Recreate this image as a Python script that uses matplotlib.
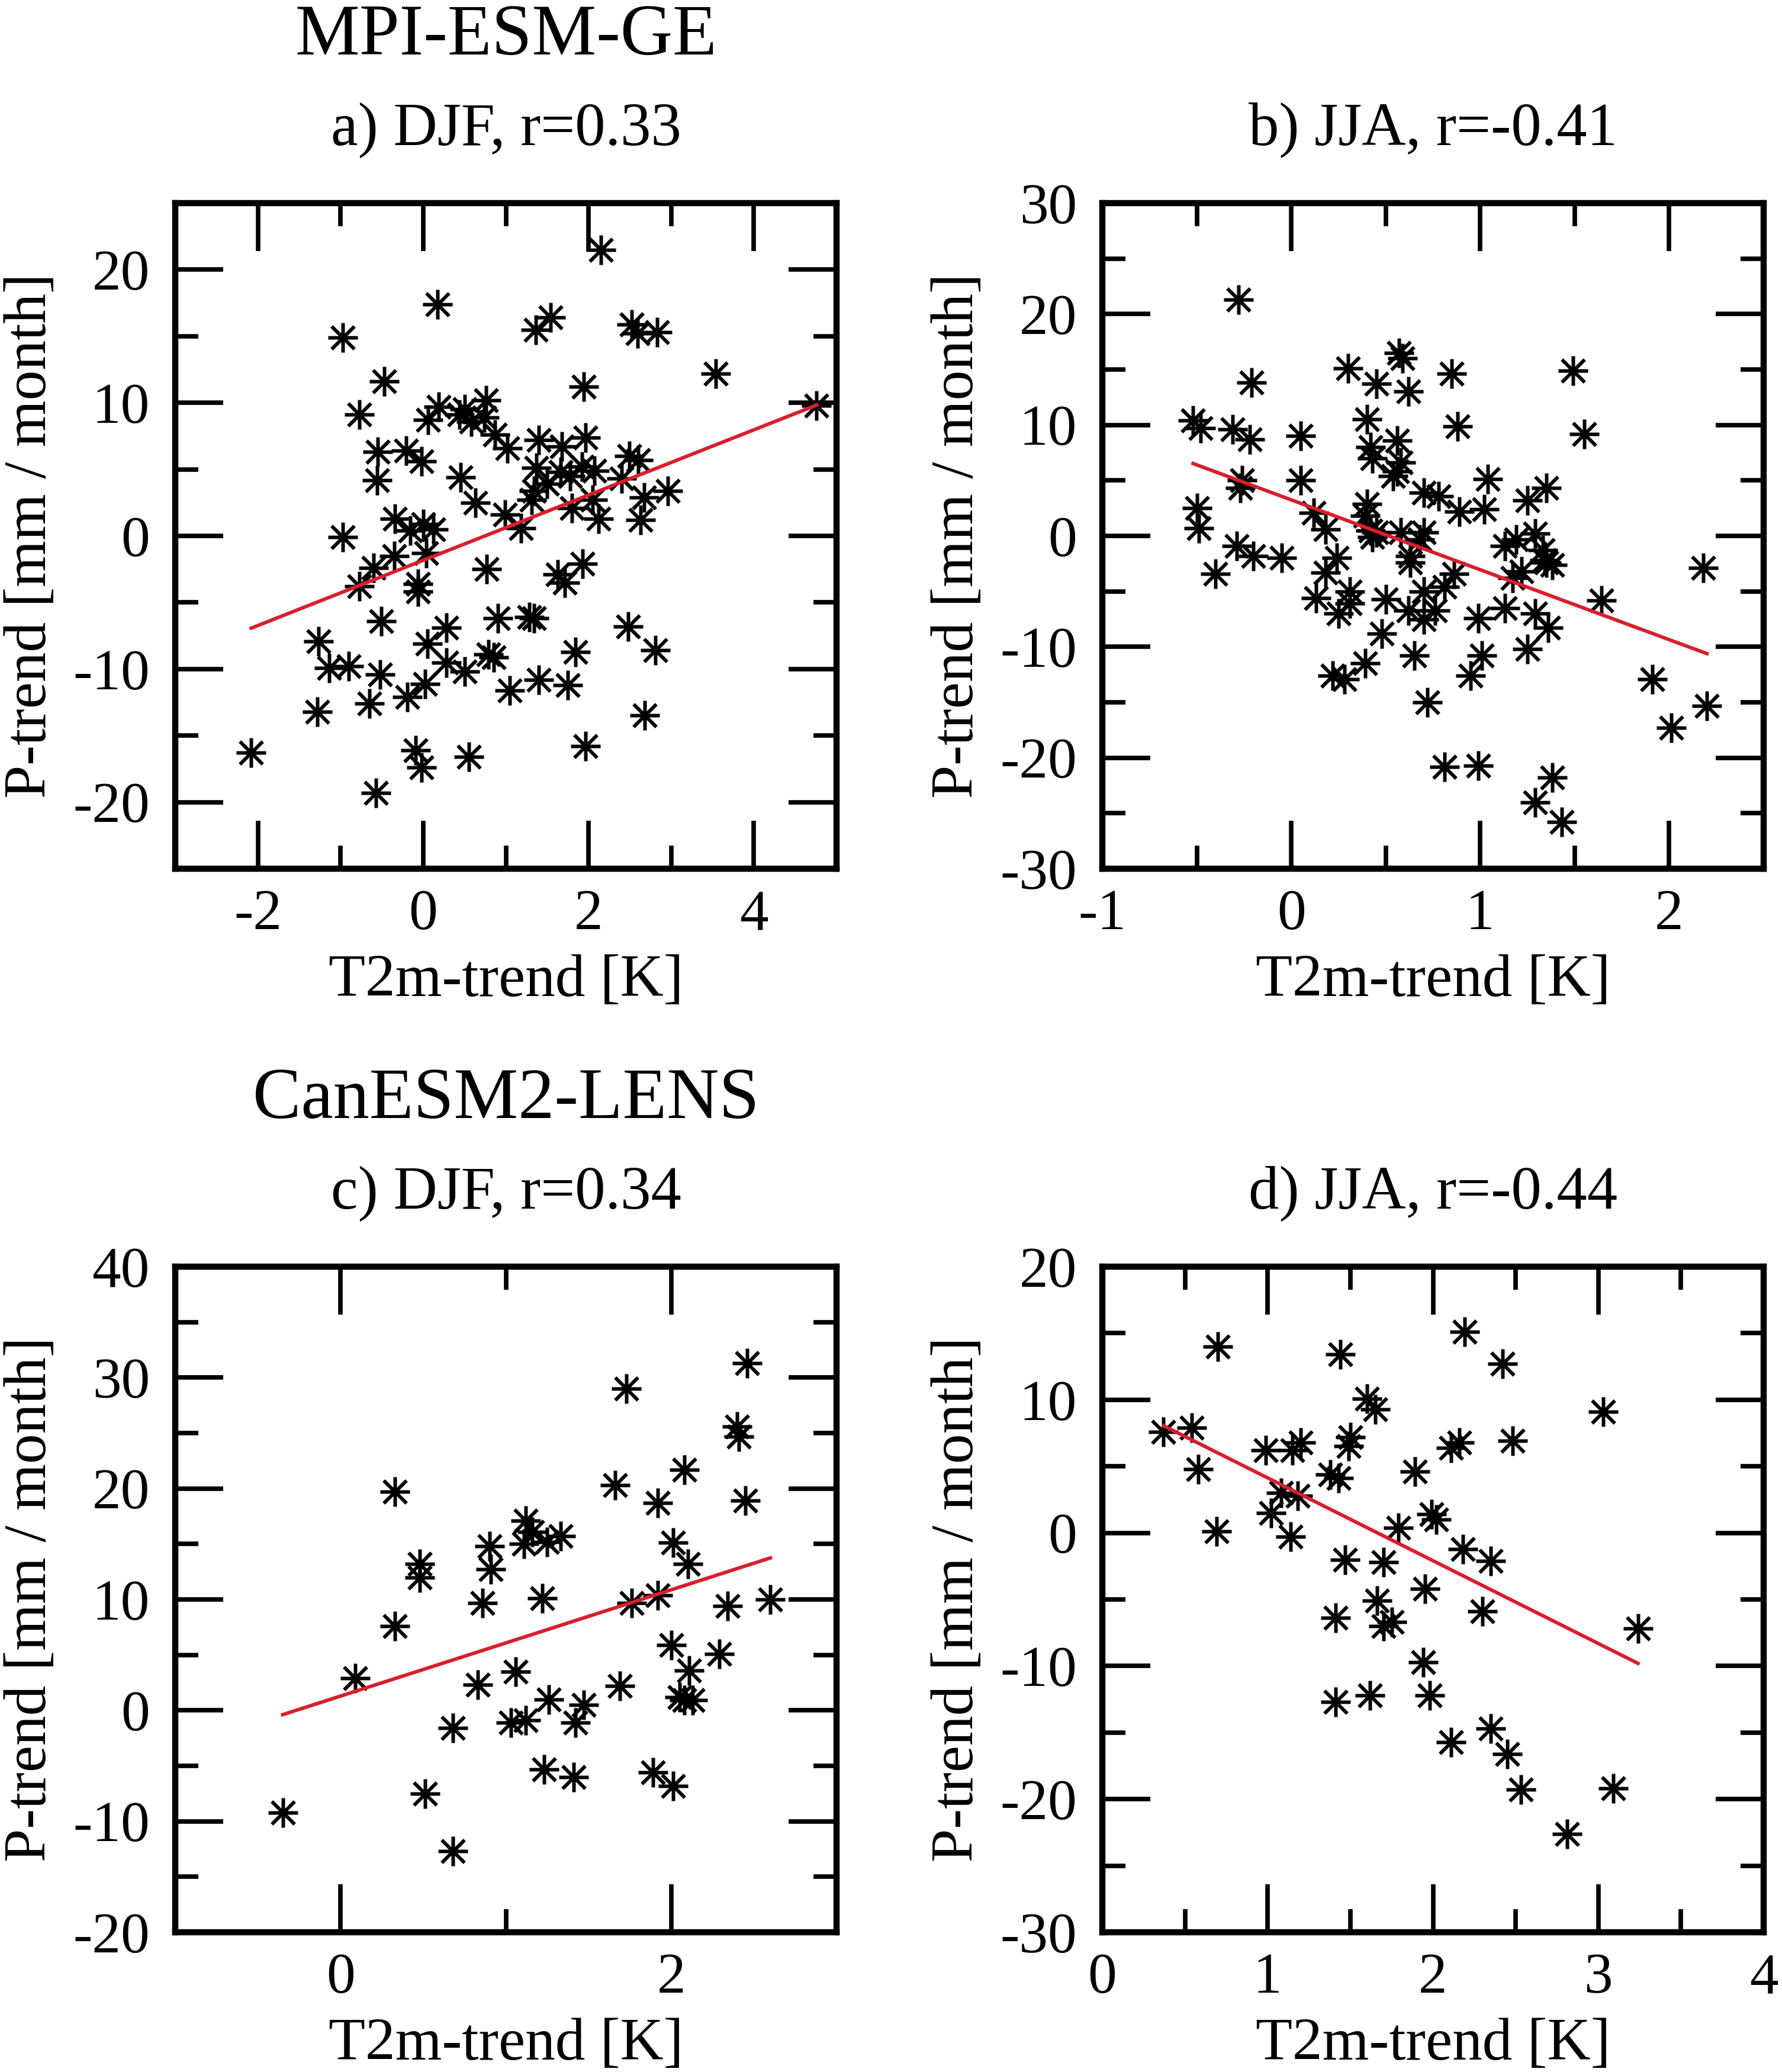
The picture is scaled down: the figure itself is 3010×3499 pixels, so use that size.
import numpy as np
import matplotlib
matplotlib.use("Agg")
import matplotlib.pyplot as plt
from matplotlib.path import Path
from matplotlib.ticker import FixedLocator

plt.rcParams['font.family'] = ['Liberation Serif', 'DejaVu Serif']
plt.rcParams['axes.unicode_minus'] = False

# ---------------- data ----------------
# a) MPI-ESM-GE DJF
a_x = [-2.08, -0.97, 0.175, 2.15, 1.36, 1.54, 2.52, 2.59, 2.83, 3.54, 1.94, -0.47, -0.77, 4.76,
       0.19, 0.06, 0.50, 0.58, 0.76, 0.74, 0.44, 0.87, 1.02, 1.40, 1.68, 1.96, -0.55, -0.21, -0.02,
       -0.56, 0.45, 1.37, 1.66, 1.78, 1.92, 2.07, 2.49, 2.60, 2.40, 1.50, 1.34, 1.31, 0.63, 1.80,
       2.05, 2.12, 2.67, 2.96, 2.63, 0.99, 1.18, -0.34, -0.16, 0.00, 0.12, -0.97, -0.35, 0.04,
       -0.60, -0.77, -0.06, -0.06, 0.77, 1.63, 1.71, 1.93, -0.51, 0.28, 0.90, 1.28, 1.34, 2.48,
       -1.27, 0.05, 0.79, 0.85, 1.84, 2.81, -1.14, -0.90, 0.28, 0.50, -0.52, 0.02, -0.19, -0.65,
       1.05, 1.40, 1.75, -1.28, 2.68, -0.09, -0.02, 0.55, 1.96, -0.57]
a_y = [-16.3, 14.9, 17.4, 21.5, 15.5, 16.4, 15.9, 15.2, 15.3, 12.2, 11.2, 11.6, 9.1, 9.8,
       9.7, 8.7, 9.5, 8.6, 10.2, 8.9, 9.1, 7.6, 6.6, 7.2, 6.7, 7.4, 6.3, 6.4, 5.6,
       4.2, 4.4, 5.1, 4.8, 4.5, 5.2, 4.9, 6.0, 5.7, 4.3, 3.9, 3.4, 2.7, 2.5, 2.1,
       2.7, 1.3, 2.9, 3.4, 1.2, 1.6, 0.6, 1.3, 0.4, 0.9, 0.5, -0.1, -1.5, -1.3,
       -2.4, -3.8, -3.6, -4.2, -2.5, -2.9, -3.5, -2.1, -6.4, -6.9, -6.2, -6.1, -6.2, -6.8,
       -7.9, -8.1, -8.9, -9.1, -8.7, -8.6, -9.9, -9.8, -9.5, -10.2, -10.4, -11.1, -12.1, -12.6,
       -11.6, -10.8, -11.2, -13.2, -13.5, -16.1, -17.4, -16.6, -15.8, -19.3]

# b) MPI-ESM-GE JJA
b_x = [-0.28, 0.57, 0.59, 0.30, 0.85, 1.49, 0.45, 0.62, -0.21, -0.52, -0.48, -0.31, -0.22,
       0.05, 0.40, 0.88, 1.55, 0.42, 0.56, 0.43, 0.58, 0.54, 0.56, -0.26, -0.27, 0.05, 1.04,
       1.35, -0.50, -0.49, 0.12, 0.18, 0.40, 0.39, 0.43, 0.70, 0.78, 0.89, 1.02, 1.25, 0.58,
       0.70, 0.68, 0.45, -0.29, -0.20, -0.05, -0.40, 0.24, 0.18, 0.63, 0.63, 1.13, 1.19, 1.29,
       1.33, 1.35, 1.38, 1.34, 1.17, 1.22, 0.86, 0.81, 2.18, 0.13, 0.31, 0.31, 0.25, 0.50,
       0.62, 0.70, 0.70, 0.76, 0.99, 1.13, 1.29, 1.36, 1.64, 0.48, 0.65, 0.39, 0.22, 0.28,
       1.01, 0.95, 1.25, 0.72, 1.91, 2.01, 2.20, 0.81, 0.99, 1.38, 1.29, 1.43, 0.42]
b_y = [21.3, 16.5, 16.0, 15.1, 14.6, 14.9, 13.7, 13.0, 13.8, 10.4, 9.7, 9.6, 8.7,
       9.0, 10.5, 9.9, 9.2, 8.0, 8.6, 7.0, 6.6, 5.4, 5.8, 5.0, 4.3, 5.0, 5.1,
       4.3, 2.5, 0.7, 2.1, 0.6, 2.9, 1.8, -0.1, 3.9, 3.6, 2.2, 2.4, 3.2, 0.3,
       0.3, -0.3, 0.3, -0.9, -1.8, -2.0, -3.4, -2.0, -3.3, -1.8, -2.4, -0.9, -0.3, 0.2,
       -1.3, -2.4, -2.6, -2.2, -3.8, -3.2, -3.4, -4.6, -2.9, -5.6, -5.0, -6.1, -7.0, -5.7,
       -6.7, -5.0, -7.5, -6.7, -7.4, -6.5, -7.0, -8.3, -5.8, -8.8, -10.8, -11.5, -12.6, -12.9,
       -10.8, -12.6, -10.2, -15.0, -12.9, -17.3, -15.3, -20.8, -20.7, -21.8, -24.0, -25.8, 0.5]

# c) CanESM2-LENS DJF
c_x = [-0.35, 0.09, 0.33, 0.33, 0.48, 0.48, 0.51, 0.68, 0.68, 0.83, 0.90, 0.91, 0.86, 1.06,
       1.03, 1.12, 1.12, 1.16, 1.11, 1.25, 1.33, 1.22, 1.26, 1.23, 1.42, 1.47, 1.41, 1.66,
       1.73, 1.69, 1.76, 1.92, 1.92, 1.89, 2.01, 2.08, 2.10, 2.00, 2.11, 2.05, 2.08, 2.13,
       2.01, 2.29, 2.34, 2.40, 2.41, 2.45, 2.46, 2.60]
c_y = [-9.2, 2.9, 19.7, 7.6, 13.2, 12.0, -7.5, -1.6, -12.7, 2.3, 14.8, 12.7, 9.7, 3.5,
       -1.1, -0.9, 17.1, 16.1, 15.0, 15.2, 15.7, 10.1, 1.0, -5.3, -1.1, 0.5, -6.0, 20.3,
       29.0, 2.2, 9.7, 10.4, 18.7, -5.6, 15.1, 21.7, 13.2, 5.9, 3.6, 1.2, 0.9, 0.9,
       -6.8, 5.1, 9.4, 25.6, 24.7, 18.9, 31.3, 10.0]

# d) CanESM2-LENS JJA
d_x = [0.37, 0.54, 0.58, 0.70, 0.69, 0.99, 1.15, 1.20, 1.08, 1.18, 1.02, 1.14, 1.44, 1.50,
       1.49, 1.38, 1.43, 1.60, 1.65, 1.47, 1.41, 1.41, 1.62, 1.70, 1.66, 1.70, 1.75, 1.79,
       1.89, 1.95, 1.99, 2.02, 1.94, 1.98, 2.11, 2.16, 2.19, 2.18, 2.11, 2.30, 2.35, 2.42,
       2.48, 2.35, 2.45, 2.53, 2.81, 3.03, 3.09, 3.24]
d_y = [7.6, 7.9, 4.8, 14.0, 0.1, 6.2, 6.2, 6.8, 3.0, 2.8, 1.5, -0.3, 13.4, 7.2,
       6.5, 4.4, 4.1, 10.1, 9.3, -2.0, -6.4, -12.7, -12.2, -2.2, -5.1, -7.0, -6.7, 0.4,
       4.6, -4.2, 1.4, 1.0, -9.7, -12.2, 6.4, 6.8, 15.1, -1.2, -15.7, -5.9, -2.1, 12.7,
       6.9, -14.7, -16.6, -19.3, -22.6, 9.1, -19.2, -7.2]

# regression lines (slope, intercept)
fit_slope = [2.45, -6.30, 4.79, -6.22]
fit_icept = [-1.83, 3.25, 1.29, 10.35]

subtitles = ["a) DJF, r=0.33", "b) JJA, r=-0.41", "c) DJF, r=0.34", "d) JJA, r=-0.44"]
model_titles = ["MPI-ESM-GE", "CanESM2-LENS"]

xlims = [(-3, 5), (-1, 2.5), (-1, 3), (0, 4)]
ylims = [(-25, 25), (-30, 30), (-20, 40), (-30, 20)]
xmajor = [[-2, 0, 2, 4], [-1, 0, 1, 2], [0, 2], [0, 1, 2, 3, 4]]
xminor = [[-1, 1, 3], [-0.5, 0.5, 1.5], [1], [0.5, 1.5, 2.5, 3.5]]
ymajor = [[-20, -10, 0, 10, 20], [-30, -20, -10, 0, 10, 20, 30],
          [-20, -10, 0, 10, 20, 30, 40], [-30, -20, -10, 0, 10, 20]]
yminor = [[-15, -5, 5, 15], [-25, -15, -5, 5, 15, 25],
          [-15, -5, 5, 15, 25, 35], [-25, -15, -5, 5, 15]]

xs = [a_x, b_x, c_x, d_x]
ys = [a_y, b_y, c_y, d_y]

# ---------------- marker: 8-armed asterisk ----------------
r = 0.5
dg = 0.385
verts = [(-r, 0), (r, 0), (0, -r), (0, r), (-dg, -dg), (dg, dg), (-dg, dg), (dg, -dg)]
codes = [Path.MOVETO, Path.LINETO] * 4
star8 = Path(verts, codes)

fig = plt.figure(figsize=(30.10, 34.99), dpi=100)
W, H = 3010.0, 3499.0
lefts = [296 / W, 1862 / W]
bottoms = [1 - 1467 / H, 1 - 3263 / H]
aw, ah = 1117 / W, 1124 / H

positions = [(lefts[0], bottoms[0]), (lefts[1], bottoms[0]),
             (lefts[0], bottoms[1]), (lefts[1], bottoms[1])]

for i in range(4):
    ax = fig.add_axes([positions[i][0], positions[i][1], aw, ah])
    x = np.array(xs[i]); y = np.array(ys[i])
    ax.plot(x, y, linestyle='none', marker=star8, markersize=36,
            markeredgewidth=4.3, color='black', zorder=3)
    xl = np.array([x.min(), x.max()])
    ax.plot(xl, fit_slope[i] * xl + fit_icept[i], color='#d81e2c', lw=4.3, zorder=4)
    ax.set_xlim(*xlims[i]); ax.set_ylim(*ylims[i])
    ax.xaxis.set_major_locator(FixedLocator(xmajor[i]))
    ax.xaxis.set_minor_locator(FixedLocator(xminor[i]))
    ax.yaxis.set_major_locator(FixedLocator(ymajor[i]))
    ax.yaxis.set_minor_locator(FixedLocator(yminor[i]))
    ax.set_xticklabels([('%g' % v) for v in xmajor[i]])
    ax.set_yticklabels([('%g' % v) for v in ymajor[i]])
    ax.tick_params(which='both', direction='in', top=True, right=True, width=5.5, color='black')
    ax.tick_params(which='major', length=58, labelsize=70)
    ax.tick_params(which='minor', length=28)
    ax.tick_params(axis='y', which='major', pad=31)
    ax.tick_params(axis='x', which='major', pad=25)
    for s in ax.spines.values():
        s.set_linewidth(7.5)
    ax.set_xlabel("T2m-trend [K]", fontsize=73)
    ax.set_ylabel("P-trend [mm / month]", fontsize=73)
    ax.xaxis.label.set_va('baseline')
    ax.yaxis.label.set_va('baseline')
    ax.xaxis.set_label_coords(0.5, -215 / 1124)
    ax.yaxis.set_label_coords(-219 / 1117, 0.5)
    ax.text(0.5, 1 + 98 / 1124, subtitles[i], transform=ax.transAxes,
            ha='center', va='baseline', fontsize=74)
    if i % 2 == 0:
        ax.text(0.5, 1 + 251 / 1124, model_titles[i // 2], transform=ax.transAxes,
                ha='center', va='baseline', fontsize=88)

fig.savefig("out.png", dpi=100, facecolor='white')
